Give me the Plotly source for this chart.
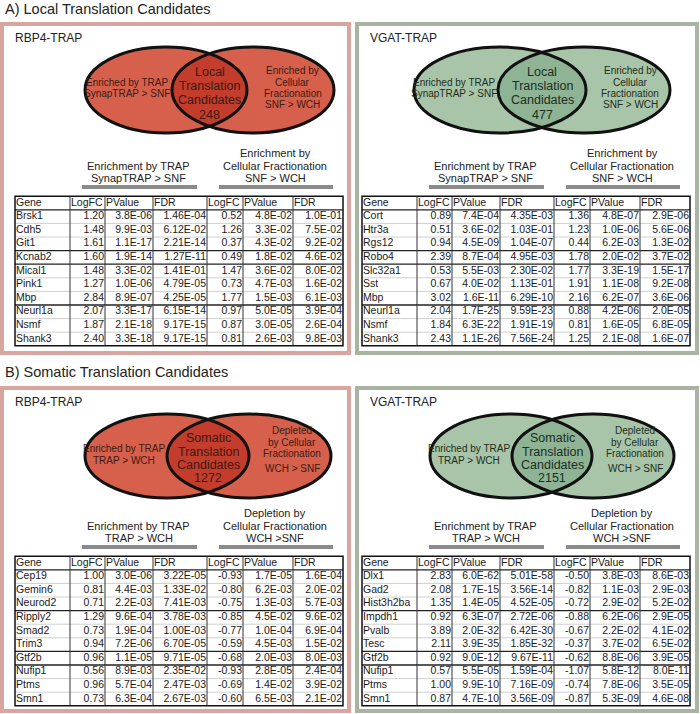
import numpy as np
import plotly.graph_objects as go

# ---------------- data ----------------
TITLE_A = "A) Local Translation Candidates"
TITLE_B = "B) Somatic Translation Candidates"
HEADERS = ["Gene", "LogFC", "PValue", "FDR", "LogFC", "PValue", "FDR"]

# A) Local translation - RBP4-TRAP
a_rbp4_genes = ["Brsk1", "Cdh5", "Git1", "Kcnab2", "Mical1", "Pink1", "Mbp", "Neurl1a", "Nsmf", "Shank3"]
a_rbp4_trap_logfc = [1.20, 1.48, 1.61, 1.60, 1.48, 1.27, 2.84, 2.07, 1.87, 2.40]
a_rbp4_trap_p = [3.8e-06, 9.9e-03, 1.1e-17, 1.9e-14, 3.3e-02, 1.0e-06, 8.9e-07, 3.3e-17, 2.1e-18, 3.3e-18]
a_rbp4_trap_fdr = [1.46e-04, 6.12e-02, 2.21e-14, 1.27e-11, 1.41e-01, 4.79e-05, 4.25e-05, 6.15e-14, 9.17e-15, 9.17e-15]
a_rbp4_frac_logfc = [0.52, 1.26, 0.37, 0.49, 1.47, 0.73, 1.77, 0.97, 0.87, 0.81]
a_rbp4_frac_p = [4.8e-02, 3.3e-02, 4.3e-02, 1.8e-02, 3.6e-02, 4.7e-03, 1.5e-03, 5.0e-05, 3.0e-05, 2.6e-03]
a_rbp4_frac_fdr = [1.0e-01, 7.5e-02, 9.2e-02, 4.6e-02, 8.0e-02, 1.6e-02, 6.1e-03, 3.9e-04, 2.6e-04, 9.8e-03]

# A) Local translation - VGAT-TRAP
a_vgat_genes = ["Cort", "Htr3a", "Rgs12", "Robo4", "Slc32a1", "Sst", "Mbp", "Neurl1a", "Nsmf", "Shank3"]
a_vgat_trap_logfc = [0.89, 0.51, 0.94, 2.39, 0.53, 0.67, 3.02, 2.04, 1.84, 2.43]
a_vgat_trap_p = [7.4e-04, 3.6e-02, 4.5e-09, 8.7e-04, 5.5e-03, 4.0e-02, 1.6e-11, 1.7e-25, 6.3e-22, 1.1e-26]
a_vgat_trap_fdr = [4.35e-03, 1.03e-01, 1.04e-07, 4.95e-03, 2.30e-02, 1.13e-01, 6.29e-10, 9.59e-23, 1.91e-19, 7.56e-24]
a_vgat_frac_logfc = [1.36, 1.23, 0.44, 1.78, 1.77, 1.91, 2.16, 0.88, 0.81, 1.25]
a_vgat_frac_p = [4.8e-07, 1.0e-06, 6.2e-03, 2.0e-02, 3.3e-19, 1.1e-08, 6.2e-07, 4.2e-06, 1.6e-05, 2.1e-08]
a_vgat_frac_fdr = [2.9e-06, 5.6e-06, 1.3e-02, 3.7e-02, 1.5e-17, 9.2e-08, 3.6e-06, 2.0e-05, 6.8e-05, 1.6e-07]

# B) Somatic translation - RBP4-TRAP
b_rbp4_genes = ["Cep19", "Gemin6", "Neurod2", "Ripply2", "Smad2", "Trim3", "Gtf2b", "Nufip1", "Ptms", "Smn1"]
b_rbp4_trap_logfc = [1.00, 0.81, 0.71, 1.29, 0.73, 0.94, 0.96, 0.56, 0.96, 0.73]
b_rbp4_trap_p = [3.0e-06, 4.4e-03, 2.2e-03, 9.6e-04, 1.9e-04, 7.2e-06, 1.1e-05, 8.9e-03, 5.7e-04, 6.3e-04]
b_rbp4_trap_fdr = [3.22e-05, 1.33e-02, 7.41e-03, 3.78e-03, 1.00e-03, 6.70e-05, 9.71e-05, 2.35e-02, 2.47e-03, 2.67e-03]
b_rbp4_frac_logfc = [-0.93, -0.80, -0.75, -0.85, -0.77, -0.59, -0.68, -0.93, -0.69, -0.60]
b_rbp4_frac_p = [1.7e-05, 6.2e-03, 1.3e-03, 4.5e-02, 1.0e-04, 4.5e-03, 2.0e-03, 2.8e-05, 1.4e-02, 6.5e-03]
b_rbp4_frac_fdr = [1.6e-04, 2.0e-02, 5.7e-03, 9.6e-02, 6.9e-04, 1.5e-02, 8.0e-03, 2.4e-04, 3.9e-02, 2.1e-02]

# B) Somatic translation - VGAT-TRAP
b_vgat_genes = ["Dlx1", "Gad2", "Hist3h2ba", "Impdh1", "Pvalb", "Tesc", "Gtf2b", "Nufip1", "Ptms", "Smn1"]
b_vgat_trap_logfc = [2.83, 2.08, 1.35, 0.92, 3.89, 2.11, 0.92, 0.57, 1.00, 0.87]
b_vgat_trap_p = [6.0e-62, 1.7e-15, 1.4e-05, 6.3e-07, 2.0e-32, 3.9e-35, 9.0e-12, 5.5e-05, 9.9e-10, 4.7e-10]
b_vgat_trap_fdr = [5.01e-58, 3.56e-14, 4.52e-05, 2.72e-06, 6.42e-30, 1.85e-32, 9.67e-11, 1.59e-04, 7.16e-09, 3.56e-09]
b_vgat_frac_logfc = [-0.50, -0.82, -0.72, -0.88, -0.67, -0.37, -0.62, -1.07, -0.74, -0.87]
b_vgat_frac_p = [3.8e-03, 1.1e-03, 2.9e-02, 6.2e-06, 2.2e-02, 3.7e-02, 8.8e-06, 5.8e-12, 7.8e-06, 5.3e-09]
b_vgat_frac_fdr = [8.6e-03, 2.9e-03, 5.2e-02, 2.9e-05, 4.1e-02, 6.5e-02, 3.9e-05, 8.0e-11, 3.5e-05, 4.6e-08]

venn_counts = [248, 477, 1272, 2151]

# ---------------- styling / layout ----------------
FONT = "Liberation Sans, Arial, sans-serif"
W, H = 700, 714
RED = dict(border="#d8a69e", fill="#d6604b", lens="#c33c2c", text="#3d1a12")
GREEN = dict(border="#a8b49f", fill="#a8c5a9", lens="#8fb395", text="#1c2e20")
COL_W = [55, 35, 48, 54, 36, 50, 50]
ROW_H = 13.6

A_labels = dict(
    left=["Enriched by TRAP", "SynapTRAP > SNF"], left_dy=[-8, 3],
    mid=["Local", "Translation", "Candidates"], mid_dy=[-18, -4, 10, 25],
    right=["Enriched by", "Cellular", "Fractionation", "SNF > WCH"], right_dy=[-20, -8, 3, 14],
    under_l=["Enrichment by TRAP", "SynapTRAP > SNF"],
    under_r=["Enrichment by", "Cellular Fractionation", "SNF > WCH"],
)
B_labels = dict(
    left=["Enriched by TRAP", "TRAP > WCH"], left_dy=[-8, 4],
    mid=["Somatic", "Translation", "Candidates"], mid_dy=[-18, -4, 9, 22],
    right=["Depleted", "by Cellular", "Fractionation", "WCH > SNF"], right_dy=[-26, -14, -3, 12],
    under_l=["Enrichment by TRAP", "TRAP > WCH"],
    under_r=["Depletion by", "Cellular Fractionation", "WCH >SNF"],
)

panels = [
    dict(name="RBP4-TRAP", col=RED, x0=2, x1=349, y0=24, y1=353, labels=A_labels, count=venn_counts[0],
         venn=(166, 253, 90, 81, 43), tx0=15, hy=203, bary=187, dark=[0, 3, 4, 7],
         cols=[a_rbp4_genes, a_rbp4_trap_logfc, a_rbp4_trap_p, a_rbp4_trap_fdr,
               a_rbp4_frac_logfc, a_rbp4_frac_p, a_rbp4_frac_fdr]),
    dict(name="VGAT-TRAP", col=GREEN, x0=357, x1=697, y0=24, y1=353, labels=A_labels, count=venn_counts[1],
         venn=(500, 584, 90, 86, 43), tx0=362, hy=203, bary=187, dark=[0, 3, 4, 7],
         cols=[a_vgat_genes, a_vgat_trap_logfc, a_vgat_trap_p, a_vgat_trap_fdr,
               a_vgat_frac_logfc, a_vgat_frac_p, a_vgat_frac_fdr]),
    dict(name="RBP4-TRAP", col=RED, x0=2, x1=349, y0=388, y1=711, labels=B_labels, count=venn_counts[2],
         venn=(167, 249, 456, 82, 42), tx0=15, hy=563, bary=547, dark=[0, 3, 6, 7],
         cols=[b_rbp4_genes, b_rbp4_trap_logfc, b_rbp4_trap_p, b_rbp4_trap_fdr,
               b_rbp4_frac_logfc, b_rbp4_frac_p, b_rbp4_frac_fdr]),
    dict(name="VGAT-TRAP", col=GREEN, x0=357, x1=697, y0=388, y1=711, labels=B_labels, count=venn_counts[3],
         venn=(511, 593, 456, 81, 42), tx0=362, hy=563, bary=547, dark=[0, 3, 6, 7],
         cols=[b_vgat_genes, b_vgat_trap_logfc, b_vgat_trap_p, b_vgat_trap_fdr,
               b_vgat_frac_logfc, b_vgat_frac_p, b_vgat_frac_fdr]),
]

FMT = [None, "{:.2f}", "{:.1E}", "{:.2E}", "{:.2f}", "{:.1E}", "{:.1E}"]

fig = go.Figure()
shapes = []
annotations = []


def ann(x, y, text, size, color="#222", xanchor="center", yanchor="middle"):
    annotations.append(dict(x=x, y=y, xref="x", yref="y", text=text, showarrow=False,
                            xanchor=xanchor, yanchor=yanchor,
                            font=dict(family=FONT, size=size, color=color)))


ann(3, 9, TITLE_A, 14.5, "#222", xanchor="left")
ann(3, 372, TITLE_B, 14.5, "#222", xanchor="left")

for p in panels:
    c = p["col"]
    # panel border
    shapes.append(dict(type="rect", xref="x", yref="y", x0=p["x0"], x1=p["x1"], y0=p["y0"], y1=p["y1"],
                       line=dict(color=c["border"], width=4), fillcolor="white", layer="below"))
    ann(p["x0"] + 11, p["y0"] + 14, p["name"], 12, "#222", xanchor="left")

    # Venn
    c1, c2, cy, rx, ry = p["venn"]
    for cx in (c1, c2):
        shapes.append(dict(type="circle", xref="x", yref="y", x0=cx - rx, x1=cx + rx, y0=cy - ry, y1=cy + ry,
                           fillcolor=c["fill"], line=dict(width=0), layer="below"))
    xm = (c1 + c2) / 2
    t0 = np.arccos((xm - c1) / rx)
    ta = np.linspace(-t0, t0, 60)
    tb = np.linspace(np.pi - t0, np.pi + t0, 60)
    px = np.concatenate([c1 + rx * np.cos(ta), c2 + rx * np.cos(tb)])
    py = np.concatenate([cy + ry * np.sin(ta), cy - ry * np.sin(tb)])
    path = "M " + " L ".join(f"{a:.2f},{b:.2f}" for a, b in zip(px, py)) + " Z"
    shapes.append(dict(type="path", xref="x", yref="y", path=path, fillcolor=c["lens"],
                       line=dict(width=0), layer="below"))
    for cx in (c1, c2):
        shapes.append(dict(type="circle", xref="x", yref="y", x0=cx - rx, x1=cx + rx, y0=cy - ry, y1=cy + ry,
                           fillcolor="rgba(0,0,0,0)", line=dict(color="#111", width=3), layer="below"))

    L = p["labels"]
    lx = ((c1 - rx) + (c2 - rx)) / 2 - 2
    rxx = ((c1 + rx) + (c2 + rx)) / 2 + 2
    for t, dy in zip(L["left"], L["left_dy"]):
        ann(lx, cy + dy, t, 10, c["text"])
    mid = L["mid"] + [str(p["count"])]
    for t, dy in zip(mid, L["mid_dy"]):
        ann(xm, cy + dy, t, 12.5, c["text"])
    for t, dy in zip(L["right"], L["right_dy"]):
        ann(rxx, cy + dy, t, 10, c["text"])

    # table geometry
    edges = [p["tx0"]]
    for w in COL_W:
        edges.append(edges[-1] + w)
    top = p["hy"] - ROW_H / 2
    nrows = len(p["cols"][0]) + 1
    bot = top + nrows * ROW_H

    # under-labels + grey bars
    g1 = (edges[1], edges[4])
    g2 = (edges[4], edges[7])
    for (gx0, gx1), lines in ((g1, L["under_l"]), (g2, L["under_r"])):
        n = len(lines)
        for i, t in enumerate(lines):
            ann((gx0 + gx1) / 2, p["bary"] - 9 - (n - 1 - i) * 12.5, t, 11, "#222")
        shapes.append(dict(type="line", xref="x", yref="y", x0=gx0 + 12, x1=gx1 - 10,
                           y0=p["bary"], y1=p["bary"], line=dict(color="#8a8a8a", width=4), layer="below"))

    # row lines
    for r in range(1, nrows):
        y = top + r * ROW_H
        dark = (r - 1) in p["dark"]
        shapes.append(dict(type="line", xref="x", yref="y", x0=edges[0], x1=edges[-1], y0=y, y1=y,
                           line=dict(color="#222" if dark else "#cfcfcf", width=1.3 if dark else 1), layer="below"))
    for e in edges[1:-1]:
        shapes.append(dict(type="line", xref="x", yref="y", x0=e, x1=e, y0=top, y1=bot,
                           line=dict(color="#333", width=1), layer="below"))
    shapes.append(dict(type="rect", xref="x", yref="y", x0=edges[0], x1=edges[-1], y0=top, y1=bot,
                       line=dict(color="#111", width=1.5), fillcolor="rgba(0,0,0,0)", layer="below"))

    # header
    fig.add_trace(go.Scatter(x=[e + 1 for e in edges[:-1]], y=[p["hy"]] * 7, mode="text", text=HEADERS,
                             textposition="middle right", marker=dict(size=1),
                             textfont=dict(family=FONT, size=10.5, color="#1a1a1a"),
                             hoverinfo="skip", showlegend=False, cliponaxis=False))
    ys = [p["hy"] + (i + 1) * ROW_H for i in range(nrows - 1)]
    for j, colvals in enumerate(p["cols"]):
        if j == 0:
            fig.add_trace(go.Scatter(x=[edges[0] + 1] * len(ys), y=ys, mode="text", text=colvals,
                                     textposition="middle right", marker=dict(size=1),
                                     textfont=dict(family=FONT, size=10.5, color="#1a1a1a"),
                                     hoverinfo="skip", showlegend=False, cliponaxis=False))
        else:
            txt = [FMT[j].format(v) for v in colvals]
            fig.add_trace(go.Scatter(x=[edges[j + 1] - 1] * len(ys), y=ys, mode="text", text=txt,
                                     textposition="middle left", marker=dict(size=1),
                                     textfont=dict(family=FONT, size=10.5, color="#1a1a1a"),
                                     hoverinfo="skip", showlegend=False, cliponaxis=False))

fig.update_layout(
    width=W, height=H, margin=dict(l=0, r=0, t=0, b=0),
    paper_bgcolor="white", plot_bgcolor="white",
    xaxis=dict(range=[0, W], visible=False, fixedrange=True),
    yaxis=dict(range=[H, 0], visible=False, fixedrange=True),
    shapes=shapes, annotations=annotations, showlegend=False,
)

fig.write_html("out.html", config=dict(displayModeBar=False),
               post_script="document.body.style.margin='0';document.body.style.overflow='hidden';")
